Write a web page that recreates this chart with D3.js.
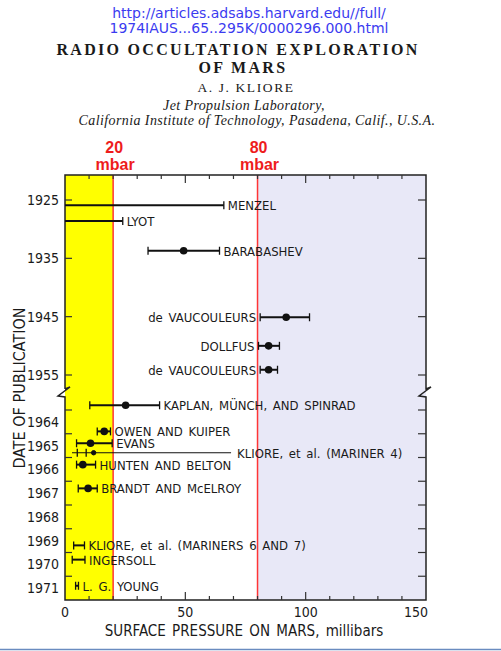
<!DOCTYPE html>
<html>
<head>
<meta charset="utf-8">
<script src="https://cdn.jsdelivr.net/npm/d3@7"></script>
<style>
  body { margin: 0; background: #fff; }
  svg { display: block; }
  .lbl { font-family: 'Liberation Sans Narrow', 'DejaVu Sans Condensed', sans-serif; fill: #1a1a1a; }
</style>
</head>
<body>
<svg id="chart" width="501" height="651"></svg>
<script>
// ---- data ----
var authors = ["MENZEL", "LYOT", "BARABASHEV", "de VAUCOULEURS", "DOLLFUS", "de VAUCOULEURS",
  "KAPLAN, MÜNCH, AND SPINRAD", "OWEN AND KUIPER", "EVANS", "KLIORE, et al. (MARINER 4)",
  "HUNTEN AND BELTON", "BRANDT AND McELROY", "KLIORE, et al. (MARINERS 6 AND 7)", "INGERSOLL", "L. G. YOUNG"];
var pubYear = [1925.9, 1928.6, 1933.7, 1945.1, 1950.0, 1954.1,
  1963.8, 1964.9, 1965.4, 1965.8, 1966.3, 1967.3, 1969.7, 1970.3, 1971.4];
var pressLow  = [0, 0, 34.5, 81.1, 80.4, 81.1, 10.3, 13.4, 4.8, 5.1, 4.8, 5.5, 3.6, 3.0, 4.4];
var pressMid  = [null, null, 49.3, 91.9, 84.6, 84.6, 25.2, 16.3, 10.6, null, 7.4, 9.6, null, null, null];
var pressHigh = [66, 24, 64.2, 101.6, 89.1, 88.3, 39.3, 18.9, 19.6, 8.8, 12.7, 13.4, 8.1, 8.3, 5.6];
var mariner4Mark = 11.9;

var upperTicks = [1925, 1935, 1945, 1955];
var lowerTicks = [1964, 1965, 1966, 1967, 1968, 1969, 1970, 1971];
var pressTicks = [0, 50, 100, 150];
var limitsMbar = [20, 80];

// ---- layout ----
var svg = d3.select("#chart");
var pLeft = 65, pRight = 426, pTop = 175, pBottom = 600;

var x = d3.scaleLinear().domain([0, 150]).range([pLeft, pRight]);
var yUp = d3.scaleLinear().domain([1925, 1955]).range([200, 375]);
var yLo = d3.scaleLinear().domain([1964, 1972]).range([410, pBottom]);
function y(yr) { return yr < 1960 ? yUp(yr) : yLo(yr); }

// header
var head = svg.append("g").attr("text-anchor", "middle");
head.append("text").attr("x", 249).attr("y", 18).text("http://articles.adsabs.harvard.edu//full/")
  .attr("font-family", "DejaVu Sans").attr("font-size", 14).attr("fill", "#3b3bf0");
head.append("text").attr("x", 249).attr("y", 33).text("1974IAUS...65..295K/0000296.000.html")
  .attr("font-family", "DejaVu Sans").attr("font-size", 14).attr("fill", "#3b3bf0");
head.append("text").attr("x", 238).attr("y", 55).text("RADIO OCCULTATION EXPLORATION")
  .attr("font-family", "Liberation Serif").attr("font-weight", "bold").attr("font-size", 16)
  .attr("letter-spacing", 2.3).attr("fill", "#1a1a1a");
head.append("text").attr("x", 243).attr("y", 73).text("OF MARS")
  .attr("font-family", "Liberation Serif").attr("font-weight", "bold").attr("font-size", 16)
  .attr("letter-spacing", 2.3).attr("fill", "#1a1a1a");
head.append("text").attr("x", 246).attr("y", 92).text("A. J. KLIORE")
  .attr("font-family", "Liberation Serif").attr("font-size", 13.5)
  .attr("letter-spacing", 1.6).attr("fill", "#1a1a1a");
head.append("text").attr("x", 244).attr("y", 110).text("Jet Propulsion Laboratory,")
  .attr("font-family", "Liberation Serif").attr("font-style", "italic").attr("font-size", 14)
  .attr("letter-spacing", 0.4).attr("fill", "#1a1a1a");
head.append("text").attr("x", 257).attr("y", 125).text("California Institute of Technology, Pasadena, Calif., U.S.A.")
  .attr("font-family", "Liberation Serif").attr("font-style", "italic").attr("font-size", 14)
  .attr("letter-spacing", 0.4).attr("fill", "#1a1a1a");

// shaded regions
svg.append("rect").attr("x", x(0)).attr("y", pTop).attr("width", x(limitsMbar[0]) - x(0))
  .attr("height", pBottom - pTop).attr("fill", "#ffff00");
svg.append("rect").attr("x", x(limitsMbar[1])).attr("y", pTop).attr("width", x(150) - x(limitsMbar[1]))
  .attr("height", pBottom - pTop).attr("fill", "#e8e8f7");

// red limit lines + labels
limitsMbar.forEach(function(m){
  svg.append("line").attr("x1", x(m)).attr("x2", x(m)).attr("y1", pTop).attr("y2", pBottom)
    .attr("stroke", "#ff3535").attr("stroke-width", 1.5);
  svg.append("text").attr("text-anchor", "middle").attr("font-family", "Liberation Sans")
    .attr("font-weight", "bold").attr("font-size", 16).attr("fill", "#ee1c1c")
    .attr("x", x(m) + 1).attr("y", 153).text(m);
  svg.append("text").attr("text-anchor", "middle").attr("font-family", "Liberation Sans")
    .attr("font-weight", "bold").attr("font-size", 16).attr("fill", "#ee1c1c")
    .attr("x", x(m) + 2).attr("y", 170).text("mbar");
});

// frame with axis breaks
var brk = 389;
var frame = "M" + pLeft + "," + brk + " V" + pTop + " H" + pRight + " V" + brk +
  " L" + (pRight + 5) + "," + (brk - 2) + " L" + (pRight - 7) + "," + (brk + 7) + " L" + pRight + "," + (brk + 8) +
  " V" + pBottom + " H" + pLeft + " V" + (brk + 8) + " L" + (pLeft - 7) + "," + (brk + 7) +
  " L" + (pLeft + 5) + "," + (brk - 2) + " L" + pLeft + "," + brk;
svg.append("path").attr("d", frame).attr("fill", "none").attr("stroke", "#222").attr("stroke-width", 1.5);

// x ticks (top and bottom, every 10 mbar)
var minor = d3.range(10, 150, 10);
minor.forEach(function(v){
  var len = v % 50 === 0 ? 8 : 4;
  svg.append("line").attr("x1", x(v)).attr("x2", x(v)).attr("y1", pTop).attr("y2", pTop + len)
    .attr("stroke", "#333").attr("stroke-width", 1.2);
  svg.append("line").attr("x1", x(v)).attr("x2", x(v)).attr("y1", pBottom).attr("y2", pBottom - len)
    .attr("stroke", "#333").attr("stroke-width", 1.2);
});
svg.append("g").selectAll("text").data(pressTicks).join("text")
  .attr("class", "lbl").attr("font-size", 14)
  .attr("x", function(d){ return d === 150 ? x(d) + 2 : x(d); })
  .attr("text-anchor", function(d){ return d === 150 ? "end" : "middle"; })
  .attr("y", 617).text(function(d){ return d; });

// y ticks
upperTicks.forEach(function(yr){
  svg.append("line").attr("x1", pLeft).attr("x2", pLeft + 7).attr("y1", yUp(yr)).attr("y2", yUp(yr))
    .attr("stroke", "#333").attr("stroke-width", 1.2);
  svg.append("line").attr("x1", pRight).attr("x2", pRight - 8).attr("y1", yUp(yr)).attr("y2", yUp(yr))
    .attr("stroke", "#333").attr("stroke-width", 1.2);
});
lowerTicks.forEach(function(yr){
  svg.append("line").attr("x1", pLeft).attr("x2", pLeft + 7).attr("y1", yLo(yr)).attr("y2", yLo(yr))
    .attr("stroke", "#333").attr("stroke-width", 1.2);
  svg.append("line").attr("x1", pRight).attr("x2", pRight - 8).attr("y1", yLo(yr)).attr("y2", yLo(yr))
    .attr("stroke", "#333").attr("stroke-width", 1.2);
});
svg.append("g").selectAll("text").data(upperTicks).join("text")
  .attr("class", "lbl").attr("font-size", 14).attr("text-anchor", "end")
  .attr("x", 59).attr("y", function(d){ return yUp(d) + 5; }).text(function(d){ return d; });
svg.append("g").selectAll("text").data(lowerTicks).join("text")
  .attr("class", "lbl").attr("font-size", 14).attr("text-anchor", "end")
  .attr("x", 59).attr("y", function(d){ return yLo(d + 0.5) + 5; }).text(function(d){ return d; });

// axis titles
svg.append("text").attr("class", "lbl").attr("font-size", 15).attr("text-anchor", "middle")
  .attr("x", 244).attr("y", 636).attr("word-spacing", 2).text("SURFACE PRESSURE ON MARS, millibars");
svg.append("text").attr("class", "lbl").attr("font-size", 16).attr("text-anchor", "middle")
  .attr("transform", "translate(25,388) rotate(-90)").text("DATE OF PUBLICATION");

// error bars
var rows = authors.map(function(a, i){
  return { name: a, yr: pubYear[i], lo: pressLow[i], mid: pressMid[i], hi: pressHigh[i] };
});
var mk = svg.append("g").attr("stroke", "#111").attr("fill", "#111");
rows.forEach(function(r, i){
  var yy = y(r.yr);
  var thin = r.name.indexOf("MARINER 4") >= 0;
  if (thin) {
    mk.append("line").attr("x1", x(2.9)).attr("x2", x(69)).attr("y1", yy).attr("y2", yy).attr("stroke-width", 1.2);
    mk.append("circle").attr("cx", x(mariner4Mark)).attr("cy", yy).attr("r", 2.2);
  } else {
    mk.append("line").attr("x1", x(r.lo)).attr("x2", x(r.hi)).attr("y1", yy).attr("y2", yy).attr("stroke-width", 2);
  }
  if (r.lo > 0) mk.append("line").attr("x1", x(r.lo)).attr("x2", x(r.lo)).attr("y1", yy - 4).attr("y2", yy + 4).attr("stroke-width", 1.3);
  mk.append("line").attr("x1", x(r.hi)).attr("x2", x(r.hi)).attr("y1", yy - 4).attr("y2", yy + 4).attr("stroke-width", 1.3);
  if (r.mid !== null) mk.append("circle").attr("cx", x(r.mid)).attr("cy", yy).attr("r", 3.8).attr("stroke", "none");

  var lx, anchor = "start";
  if (thin) lx = x(69) + 6;
  else if (r.lo > 75) { lx = x(r.lo) - 4; anchor = "end"; }
  else lx = x(r.hi) + 4;
  svg.append("text").attr("class", "lbl").attr("font-size", 13).attr("word-spacing", 2)
    .attr("text-anchor", anchor).attr("x", lx).attr("y", yy + 5).text(r.name);
});

// bottom border line
svg.append("line").attr("x1", 0).attr("x2", 501).attr("y1", 649.5).attr("y2", 649.5)
  .attr("stroke", "#6a8cc0").attr("stroke-width", 1.5);
</script>
</body>
</html>
